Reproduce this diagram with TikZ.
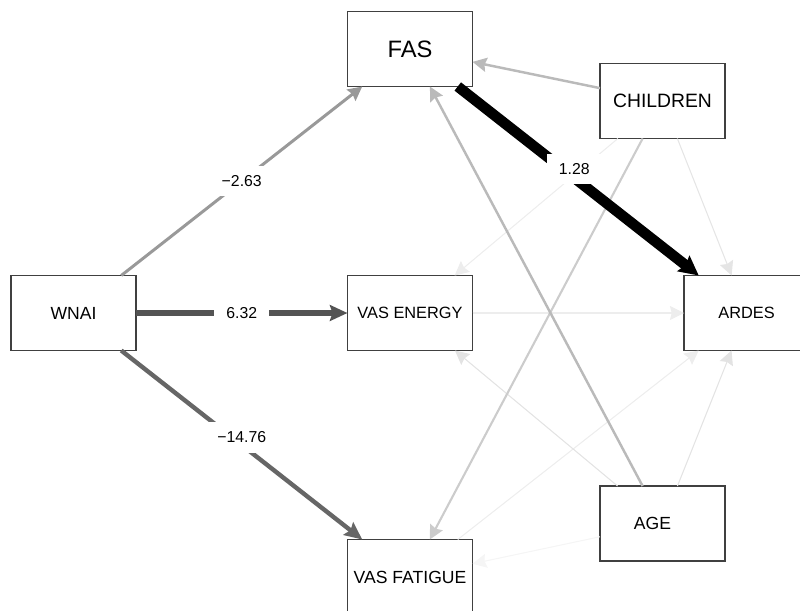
\documentclass[tikz,border=0pt]{standalone}
\usepackage{fontspec}
\setmainfont{Liberation Sans}
\usetikzlibrary{positioning, arrows.meta}

\begin{document}
\begin{tikzpicture}[>=Stealth, node distance=5.28cm and 6.73cm, on grid]
    % Tyylit
    \tikzstyle{var}=[rectangle, draw=black!75, line width=0.6pt, minimum width=2.5cm, minimum height=1.5cm, inner sep=0pt, outer sep=0pt, font=\fontsize{10}{12}\selectfont]
    \tikzstyle{arr}=[-{Stealth[length=8pt, width=8pt, inset=1pt]}, line width=0.6pt]
    \tikzstyle{bigarr}=[-{Stealth[length=10pt, width=9pt, inset=1.5pt]}]
    \tikzstyle{lbl}=[fill=white, text=black, inner xsep=7pt, inner ysep=5.5pt, font=\fontsize{9}{10}\selectfont]

    \useasboundingbox (-1.47,-5.94) rectangle (14.53,6.26);
    \clip (-1.47,-5.94) rectangle (14.53,6.26);

    % Muuttujat (Solmut)
    \node[var] (wnai) {WNAI};
    \node[var] (energy) [right=of wnai, font=\fontsize{9.3}{11}\selectfont] {VAS ENERGY};
    \node[var] (fas) [above=of energy, font=\fontsize{13.5}{16}\selectfont] {FAS};
    \node[var] (fatigue) [below=of energy] {VAS FATIGUE};
    \node[var] (ardes) [right=of energy, font=\fontsize{9.3}{11}\selectfont] {ARDES};
    \node[var] (children) [right=5.05cm of fas, yshift=-1.04cm, font=\fontsize{11}{13}\selectfont] {CHILDREN};
    \node[var] (age) [right=5.05cm of fatigue, yshift=1.07cm] {AGE\hspace*{0.4cm}};

    % Heikot polut (vaaleat)
    \draw[arr, black!4] (age) edge (fatigue);
    \draw[arr, black!7] (children) edge (energy);
    \draw[arr, black!7] (energy) edge (ardes);
    \draw[arr, black!7] (fatigue) edge (ardes);
    \draw[arr, black!10] (children) edge (ardes);
    \draw[arr, black!11] (age) edge (energy);
    \draw[arr, black!11] (age) edge (ardes);
    \draw[arr, black!20, line width=1.2pt] (children) edge (fatigue);
    \draw[arr, black!27, line width=1.4pt] (children) edge (fas);
    \draw[arr, black!27, line width=1.4pt] (age) edge (fas);

    % WNAI:n polut ja FAS -> ARDES
    \draw[arr, black!40, line width=1.7pt] (wnai) edge node[lbl] {−2.63} (fas);
    \draw[bigarr, black!67, line width=3.8pt] (wnai) edge node[lbl] {6.32} (energy);
    \draw[bigarr, black!60, line width=2.5pt] (wnai) edge node[lbl, yshift=0.15cm] {−14.76} (fatigue);
    \draw[-{Stealth[length=11pt, width=11pt, inset=1.5pt]}, black, line width=6pt] (fas) edge node[lbl, xshift=-0.08cm, yshift=0.24cm] {1.28} (ardes);

\end{tikzpicture}
\end{document}
